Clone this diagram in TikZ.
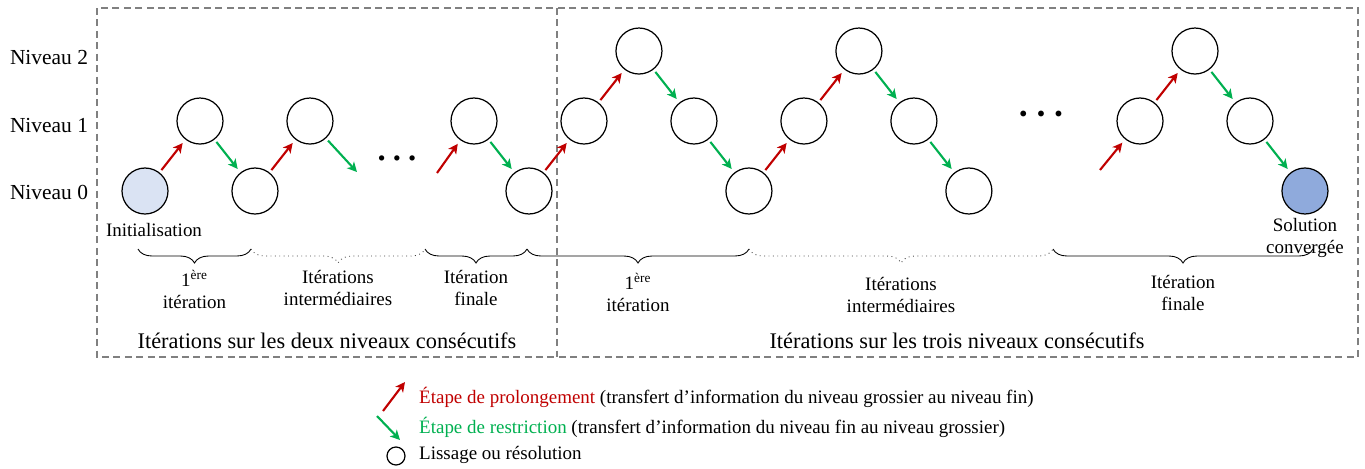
\documentclass[tikz,border=0pt]{standalone}
\usepackage{fontspec}
\setmainfont{Liberation Serif}
\usetikzlibrary{arrows.meta,positioning,decorations.pathreplacing}
\definecolor{prolred}{HTML}{C00000}
\definecolor{restgreen}{HTML}{00B050}
\definecolor{initblue}{HTML}{DAE3F3}
\definecolor{solblue}{HTML}{8FAADC}
\tikzset{
	node distance =1.4cm and 1.1cm, on grid, semithick,
}

\begin{document}
\begin{tikzpicture}[
	x=0.02cm, y=-0.02cm,
	state/.style={circle, draw, line width=0.7pt, minimum size=0.92cm, inner sep=0pt},
	stateinit/.style={state, fill=initblue},
	statesol/.style={state, fill=solblue},
	prol/.style={-{Stealth[length=5.5pt,width=5.5pt,inset=1.5pt]}, prolred, line width=1.2pt, shorten <=1.7pt, shorten >=2.5pt},
	restr/.style={-{Stealth[length=5.5pt,width=5.5pt,inset=1.5pt]}, restgreen, line width=1.2pt, shorten <=1.7pt, shorten >=2.5pt},
	brc/.style={decorate, decoration={brace, mirror, amplitude=0.28cm}, line width=0.5pt},
	brcdot/.style={brc, dotted, black!75},
	lbl/.style={font=\fontsize{10.8}{12.5}\selectfont, align=center},
	big/.style={font=\fontsize{12.7}{15}\selectfont},
	frame/.style={dashed, gray, line width=0.6pt, dash pattern=on 4pt off 2.5pt},
	]
	\useasboundingbox (0,0) rectangle (1365,468);

	%frames
	\draw[frame] (97,8) rectangle (1358,357);
	\draw[frame] (557,8) -- (557,357);

	%levels
	\node[big, font=\fontsize{12.2}{15}\selectfont] (n2) at (49,58) {Niveau 2};
	\node[big, font=\fontsize{12.2}{15}\selectfont] (n1) at (49,125) {Niveau 1};
	\node[big, font=\fontsize{12.2}{15}\selectfont] (n0) at (49,192) {Niveau 0};

	%two levels
	\node[stateinit] (1) at (145,191) {};
	\node[state] (2) [above right = of 1] {};
	\node[state] (3) [below right = of 2] {};
	\node[state] (4) [above right = of 3] {};
	\coordinate (g1) at (357,172);
	\node (d1) at (397,159) {\fontsize{6.8}{6.8}\selectfont$\bullet\hspace{2.8pt}\bullet\hspace{2.8pt}\bullet$};
	\coordinate (r1) at (437,173);
	\node[state] (5) at (474,121) {};
	\node[state] (6) [below right = of 5] {};

	%three levels
	\node[state] (7) [above right = of 6] {};
	\node[state] (8) [above right = of 7] {};
	\node[state] (9) [below right = of 8] {};
	\node[state] (10) [below right = of 9] {};
	\node[state] (11) [above right = of 10] {};
	\node[state] (12) [above right = of 11] {};
	\node[state] (13) [below right = of 12] {};
	\node[state] (14) [below right = of 13] {};
	\node (d2) at (1041,114) {\fontsize{8}{8}\selectfont$\bullet\hspace{3.9pt}\bullet\hspace{3.9pt}\bullet$};
	\coordinate (r2) at (1100,170);
	\node[state] (15) at (1140,121) {};
	\node[state] (16) [above right = of 15] {};
	\node[state] (17) [below right = of 16] {};
	\node[statesol] (18) [below right = of 17] {};

	\node[lbl] (init) [below = 0.78cm of 1, xshift=0.18cm] {Initialisation};
	\node[lbl] (sol) [below = 0.93cm of 18] {Solution\\convergée};

	%arrows
	\path (1) edge[prol] (2);
	\path (2) edge[restr] (3);
	\path (3) edge[prol] (4);
	\path (4) edge[restr, shorten >=0pt] (g1);
	\path (r1) edge[prol, shorten <=0pt] (5);
	\path (5) edge[restr] (6);
	\path (6) edge[prol] (7);
	\path (7) edge[prol] (8);
	\path (8) edge[restr] (9);
	\path (9) edge[restr] (10);
	\path (10) edge[prol] (11);
	\path (11) edge[prol] (12);
	\path (12) edge[restr] (13);
	\path (13) edge[restr] (14);
	\path (r2) edge[prol, shorten <=0pt] (15);
	\path (15) edge[prol] (16);
	\path (16) edge[restr] (17);
	\path (17) edge[restr] (18);

	%braces
	\coordinate (b0) at (138,249);
	\coordinate (b1) at (251,249);
	\coordinate (b2) at (425,249);
	\coordinate (b3) at (527,249);
	\coordinate (b4) at (749,249);
	\coordinate (b5) at (1053,249);
	\coordinate (b6) at (1313,249);
	\draw[brc] (b0) -- (b1) node[lbl, midway, below=0.3cm] {1\textsuperscript{ère}\\itération};
	\draw[brcdot] (b1) -- (b2) node[lbl, black, midway, below=0.3cm] {Itérations\\intermédiaires};
	\draw[brc] (b2) -- (b3) node[lbl, midway, below=0.3cm] {Itération\\finale};
	\draw[brc] (b3) -- (b4) node[lbl, midway, below=0.36cm] {1\textsuperscript{ère}\\itération};
	\draw[brcdot] (b4) -- (b5) node[lbl, black, midway, below=0.45cm] {Itérations\\intermédiaires};
	\draw[brc] (b5) -- (b6) node[lbl, midway, below=0.4cm] {Itération\\finale};

	\node[big] (c1) at (327,341) {Itérations sur les deux niveaux consécutifs};
	\node[big] (c2) at (957,341) {Itérations sur les trois niveaux consécutifs};

	%legend
	\coordinate (lp1) at (383,411);
	\coordinate (lp2) at (405,382);
	\coordinate (lr1) at (377,416);
	\coordinate (lr2) at (400,440);
	\path (lp1) edge[prol, shorten <=0pt, shorten >=0pt] (lp2);
	\path (lr1) edge[restr, shorten <=0pt, shorten >=0pt] (lr2);
	\node[circle, draw, line width=0.7pt, minimum size=0.36cm, inner sep=0pt] (lc) at (396,456) {};
	\node[lbl, anchor=west] (t1) at (413,397) {\color{prolred}Étape de prolongement \color{black}(transfert d’information du niveau grossier au niveau fin)};
	\node[lbl, anchor=west] (t2) at (413,427) {\color{restgreen}Étape de restriction \color{black}(transfert d’information du niveau fin au niveau grossier)};
	\node[lbl, anchor=west] (t3) at (413,455) {Lissage ou résolution};

\end{tikzpicture}
\end{document}
